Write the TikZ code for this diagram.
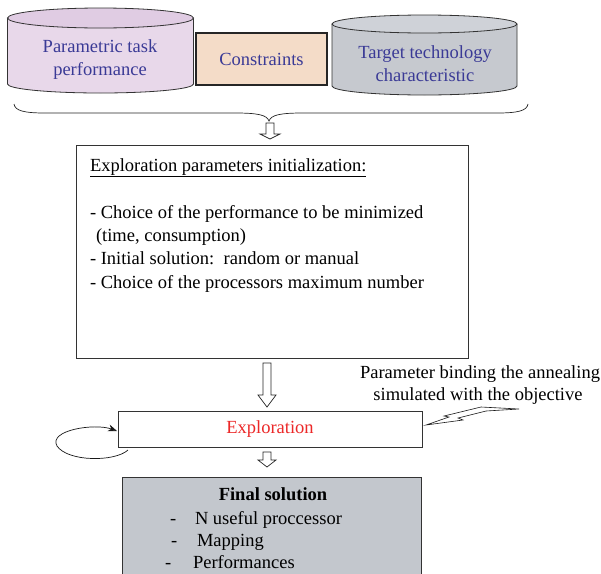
\documentclass[tikz,border=0pt]{standalone}
\usepackage{fontspec}
\setmainfont{Liberation Serif}
\usetikzlibrary{arrows.meta,calc}

\definecolor{tblue}{RGB}{58,58,150}
\definecolor{lilacbody}{RGB}{232,216,234}
\definecolor{lilactop}{RGB}{224,204,227}
\definecolor{greybody}{RGB}{198,201,207}
\definecolor{greytop}{RGB}{207,210,216}
\definecolor{peach}{RGB}{244,220,200}
\definecolor{finalgrey}{RGB}{195,199,205}
\definecolor{explored}{RGB}{236,40,40}

\tikzset{
  outline/.style={draw=black!80, line width=0.8pt},
  box/.style={outline, inner sep=0pt, outer sep=0pt},
  txt/.style={font=\fontsize{18.5}{23}\selectfont, inner sep=0pt, outer sep=0pt},
  bluetxt/.style={txt, text=tblue, align=center},
  harrowline/.style={draw=black!85, line width=0.7pt, fill=white},
  pics/harrow/.style args={#1/#2/#3/#4}{code={
    \draw[harrowline] (-#3,0) -- (#3,0) -- (#3,#1-#2) -- (#4,#1-#2) -- (0,#1)
      -- (-#4,#1-#2) -- (-#3,#1-#2) -- cycle;
  }}
}

\begin{document}
\begin{tikzpicture}[x=1pt,y=-1pt]
\clip (0,0) rectangle (601,573);
\fill[white] (0,0) rectangle (601,573);

% --- left data store
\fill[lilacbody] (7.5,18) -- (7.5,84) arc[start angle=180,end angle=0,x radius=93,y radius=9] -- (193.5,18) -- cycle;
\draw[outline] (7.5,18) -- (7.5,84) arc[start angle=180,end angle=0,x radius=93,y radius=9] -- (193.5,18);
\filldraw[outline, fill=lilactop] (100.5,18) ellipse[x radius=93, y radius=10];
\node[bluetxt] (task) at (100,60) {Parametric task\\performance};

% --- constraints
\node[box, line width=1.6pt, draw=black!85, fill=peach, minimum width=131pt, minimum height=52pt] (constr) at (261.5,59) {};
\node[bluetxt] (constrtxt) at (constr.center) {Constraints};

% --- right data store
\fill[greybody] (332,24) -- (332,86) arc[start angle=180,end angle=0,x radius=92.5,y radius=9] -- (517,24) -- cycle;
\draw[outline] (332,24) -- (332,86) arc[start angle=180,end angle=0,x radius=92.5,y radius=9] -- (517,24);
\filldraw[outline, fill=greytop] (424.5,24) ellipse[x radius=92.5, y radius=9];
\node[bluetxt] (techno) at (425,64) {Target technology\\characteristic};

% --- gathering brace
\coordinate (bl) at (14,104);
\coordinate (br) at (528,104);
\coordinate (btip) at (269,121);
\draw[black!85, line width=0.7pt] (bl) .. controls (15,111) and (25,113) .. (45,113) -- (235,113)
  .. controls (258,113) and (267,115) .. (btip)
  .. controls (271,115) and (280,113) .. (303,113) -- (497,113)
  .. controls (517,113) and (527,111) .. (br);
\pic at (270,123) {harrow={16/5/4/10}};

% --- initialization block
\node[box, minimum width=392pt, minimum height=213pt] (params) at (272,251.5) {};
\node[txt, anchor=base west] (ptitle) at (90,171) {\underline{Exploration parameters initialization:}};
\node[txt, anchor=base west] (pone) at (90,218) {- Choice of the performance to be minimized};
\node[txt, anchor=base west] (ptwo) at (96,241) {(time, consumption)};
\node[txt, anchor=base west] (pthree) at (90,264) {- Initial solution:\ \ random or manual};
\node[txt, anchor=base west] (pfour) at (90,288) {- Choice of the processors maximum number};

\pic at (267,363) {harrow={44/12/4/9}};

% --- exploration step
\node[box, minimum width=304pt, minimum height=36pt] (explo) at (270,429) {};
\node[txt, text=explored] (explotxt) at (270,429) {Exploration};

% self loop on the left
\coordinate (loopstart) at (128,450);
\coordinate (loopend) at (117,431);
\draw[black!90, line width=0.7pt, -{Stealth[length=9pt,width=7pt]}] (loopstart)
  .. controls (115,462) and (68,462) .. (57,446)
  .. controls (48,430) and (95,423) .. (loopend);

% annotation with lightning mark
\node[txt, anchor=base] (note1) at (480,378) {Parameter binding the annealing};
\node[txt, anchor=base] (note2) at (478,400) {simulated with the objective};
\coordinate (bolt) at (426,425);
\filldraw[black!90, fill=white, line width=0.6pt, line join=miter]
  (bolt) -- (449,417) -- (444,416) -- (481,407) -- (519,409)
  -- (486,411) -- (458,418) -- (463,420) -- cycle;

\pic at (267,452) {harrow={15/7/4/9}};

% --- final solution
\node[box, fill=finalgrey, minimum width=299pt, minimum height=120pt] (final) at (271.5,537) {};
\node[txt, font=\fontsize{18.5}{23}\selectfont\bfseries, anchor=base] (ftitle) at (273,500) {Final solution};
\node[txt, anchor=base west] (d1) at (170,524) {-};
\node[txt, anchor=base west] (f1) at (195,524) {N useful proccessor};
\node[txt, anchor=base west] (d2) at (171,546) {-};
\node[txt, anchor=base west] (f2) at (197,546) {Mapping};
\node[txt, anchor=base west] (d3) at (165,568) {-};
\node[txt, anchor=base west] (f3) at (193,568) {Performances};
\end{tikzpicture}
\end{document}
